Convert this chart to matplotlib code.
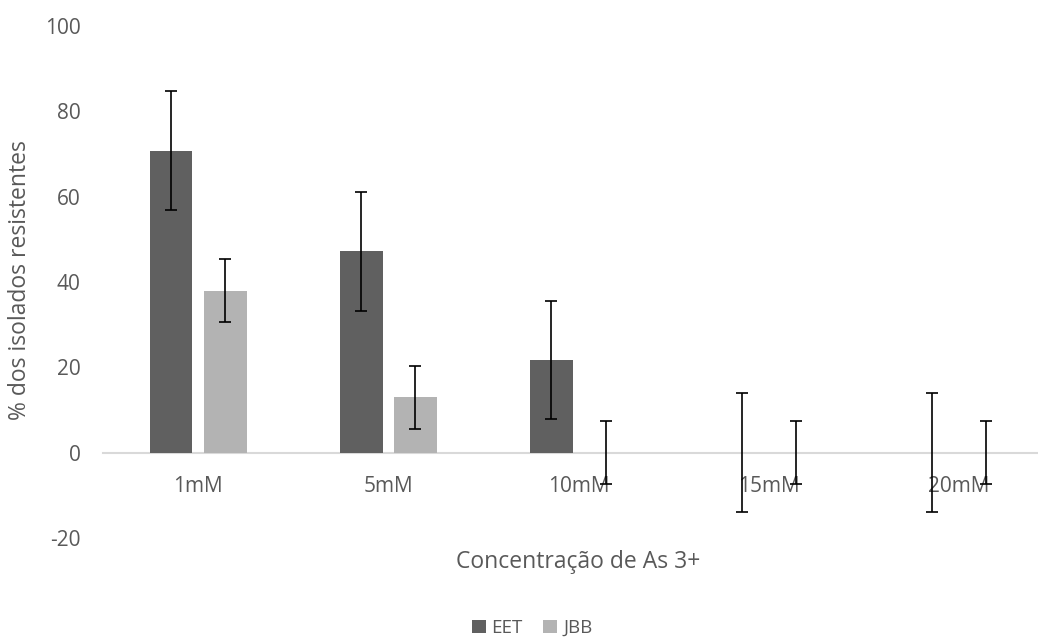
import numpy as np
import matplotlib
matplotlib.use("Agg")
from matplotlib import pyplot as plt

plt.rcParams['font.family'] = ['Open Sans', 'DejaVu Sans']
plt.rcParams['axes.unicode_minus'] = False

categories = ["1mM", "5mM", "10mM", "15mM", "20mM"]
eet = [70.8, 47.2, 21.7, 0, 0]
jbb = [38.0, 13.0, 0, 0, 0]
eet_err = [13.9, 13.9, 13.9, 13.9, 13.9]
jbb_err = [7.4, 7.4, 7.4, 7.4, 7.4]

text_col = "#595959"

fig = plt.figure(figsize=(10.38, 6.38), dpi=100)
ax = fig.add_axes([103 / 1038, 100 / 638, 951 / 1038, 512 / 638])

x = np.arange(len(categories))
w = 0.225
off = 0.142

ax.bar(x - off, eet, w, color="#606060", zorder=2, label="EET")
ax.bar(x + off, jbb, w, color="#b3b3b3", zorder=2, label="JBB")
ax.errorbar(x - off, eet, yerr=eet_err, fmt="none", ecolor="black",
            elinewidth=1.2, capsize=4.5, capthick=1.2, zorder=5)
ax.errorbar(x + off, jbb, yerr=jbb_err, fmt="none", ecolor="black",
            elinewidth=1.2, capsize=4.5, capthick=1.2, zorder=5)

ax.set_xlim(-0.5, len(categories) - 0.5)
ax.set_ylim(-20, 100)
ax.set_yticks(range(-20, 101, 20))
ax.set_xticks(x)
ax.set_xticklabels(categories)

for s in ["top", "right", "left"]:
    ax.spines[s].set_visible(False)
ax.spines["bottom"].set_position(("data", 0))
ax.spines["bottom"].set_color("#d9d9d9")
ax.spines["bottom"].set_linewidth(1.5)
ax.spines["bottom"].set_zorder(1)

ax.tick_params(axis="x", length=0, pad=17, labelsize=15, labelcolor=text_col)
ax.tick_params(axis="y", length=0, pad=16, labelsize=15, labelcolor=text_col)

fig.text(20 / 1038, 1 - 280 / 638, "% dos isolados resistentes", rotation=90,
         ha="center", va="center", fontsize=16.5, color=text_col)
fig.text(578 / 1038, 1 - 562 / 638, "Concentração de As 3+",
         ha="center", va="center", fontsize=16.5, color=text_col)

fig.legend(loc="center", bbox_to_anchor=(532 / 1038, 1 - 628 / 638), ncol=2,
           frameon=False, fontsize=13.5, labelcolor=text_col, handlelength=0.75,
           handleheight=0.75, handletextpad=0.3, columnspacing=1.1)

fig.savefig("out.png", dpi=100)
